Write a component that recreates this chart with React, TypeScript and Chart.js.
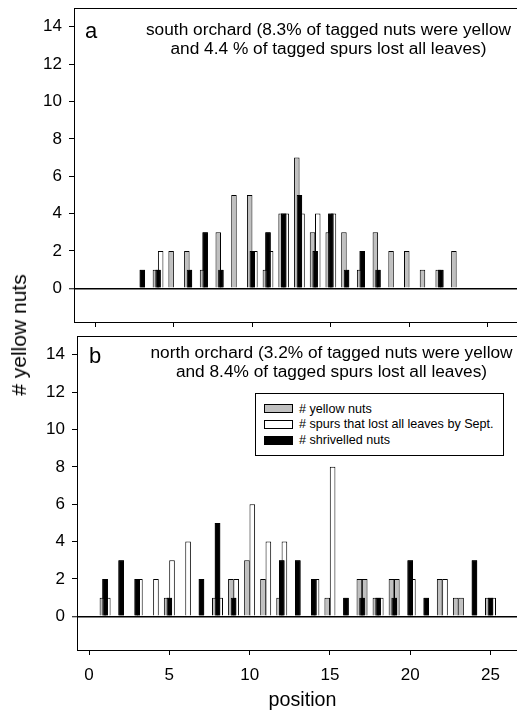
import React, { useEffect, useRef } from "react";
import { Chart, registerables } from "chart.js";

Chart.register(...registerables);

// ---------- data ----------
const positions = [1, 2, 3, 4, 5, 6, 7, 8, 9, 10, 11, 12, 13, 14, 15, 16, 17, 18, 19, 20, 21, 22, 23, 24, 25];

// panel a: south orchard
const yellowSouth = [0, 0, 0, 1, 2, 2, 1, 3, 5, 5, 1, 4, 7, 3, 3, 3, 1, 3, 2, 2, 1, 1, 2, 0, 0];
const spursSouth = [0, 0, 0, 2, 0, 0, 0, 0, 0, 2, 2, 4, 4, 4, 4, 0, 0, 0, 0, 0, 0, 0, 0, 0, 0];
const shrivelledSouth = [0, 0, 1, 1, 0, 1, 3, 1, 0, 2, 3, 4, 5, 2, 4, 1, 2, 1, 0, 0, 0, 1, 0, 0, 0];

// panel b: north orchard
const yellowNorth = [1, 0, 0, 0, 1, 0, 0, 1, 2, 3, 2, 1, 0, 0, 1, 0, 2, 1, 2, 0, 0, 2, 1, 0, 1];
const spursNorth = [1, 0, 2, 2, 3, 4, 0, 1, 2, 6, 4, 4, 0, 2, 8, 0, 2, 1, 2, 2, 0, 2, 1, 0, 1];
const shrivelledNorth = [2, 3, 2, 0, 1, 0, 2, 5, 1, 0, 0, 3, 3, 2, 0, 1, 1, 1, 1, 3, 1, 0, 0, 3, 1];
// positions where the spur bar of the north panel is printed grey in the original
const spursGreyNorth = [17, 19, 23];

const xTicks = [0, 5, 10, 15, 20, 25];
const yTicks = [0, 2, 4, 6, 8, 10, 12, 14];

const seriesLabels = ["# yellow nuts", "# spurs that lost all leaves by Sept.", "# shrivelled nuts"];

// ---------- style ----------
const FONT = "'Liberation Sans', Arial, Helvetica, sans-serif";
const GREY = "#c0c0c0";

function toPoints(values: number[]) {
  return positions
    .map((p, i) => ({ x: p, y: values[i] }))
    .filter((pt) => pt.y > 0);
}

const frameAndOrder = {
  id: "frameAndOrder",
  afterDatasetsDraw(chart: any) {
    // black series drawn on top of its neighbours
    const meta = chart.getDatasetMeta(1);
    const ctx = chart.ctx;
    ctx.save();
    meta.controller.draw();
    ctx.restore();
  },
  afterDraw(chart: any) {
    const { ctx, chartArea } = chart;
    ctx.save();
    ctx.strokeStyle = "#000";
    ctx.lineWidth = 1;
    ctx.beginPath();
    ctx.moveTo(chartArea.left, Math.round(chartArea.top) + 0.5);
    ctx.lineTo(chartArea.right, Math.round(chartArea.top) + 0.5);
    ctx.stroke();
    ctx.restore();
  },
};

type PanelLayout = {
  width: number;
  height: number;
  top: number;
  yAxisWidth: number;
  xAxisHeight: number;
  padTop: number;
  xMin: number;
  xMax: number;
  showXLabels: boolean;
};

function buildConfig(yellow: number[], spurs: number[], shriv: number[], greySpurs: number[], L: PanelLayout): any {
  return {
    type: "bar",
    data: {
      datasets: [
        { label: seriesLabels[0], data: toPoints(yellow), backgroundColor: GREY },
        { label: seriesLabels[2], data: toPoints(shriv), backgroundColor: "#000" },
        {
          label: seriesLabels[1],
          data: toPoints(spurs),
          backgroundColor: (c: any) => (c.raw && greySpurs.includes(c.raw.x) ? GREY : "#fff"),
        },
      ],
    },
    options: {
      animation: false,
      responsive: false,
      maintainAspectRatio: false,
      devicePixelRatio: 1,
      events: [],
      layout: { padding: { top: L.padTop, left: 0, right: 0, bottom: 0 } },
      datasets: {
        bar: {
          categoryPercentage: 0.5,
          barPercentage: 2.1,
          borderColor: "#000",
          borderWidth: 1,
        },
      },
      plugins: { legend: { display: false }, tooltip: { enabled: false }, title: { display: false } },
      scales: {
        x: {
          type: "linear",
          min: L.xMin,
          max: L.xMax,
          offset: false,
          grid: { offset: false, drawOnChartArea: false, drawTicks: true, tickLength: 5, color: "#000", tickColor: "#000" },
          border: { display: true, color: "#000", width: 1 },
          ticks: {
            display: L.showXLabels,
            color: "#000",
            padding: 10,
            maxRotation: 0,
            font: { family: FONT, size: 17 },
          },
          afterBuildTicks: (s: any) => {
            s.ticks = xTicks.map((v) => ({ value: v }));
          },
          afterFit: (s: any) => {
            s.height = L.xAxisHeight;
            s.paddingLeft = 0;
            s.paddingRight = 0;
          },
        },
        y: {
          type: "linear",
          min: -1.8,
          max: 15,
          grid: {
            drawOnChartArea: true,
            drawTicks: true,
            tickLength: 5,
            color: (c: any) => (c.tick && c.tick.value === 0 ? "#000" : "rgba(0,0,0,0)"),
            lineWidth: (c: any) => (c.tick && c.tick.value === 0 ? 1.5 : 1),
            tickColor: "#000",
            tickWidth: 1,
          },
          border: { display: true, color: "#000", width: 1 },
          ticks: { color: "#000", padding: 7, font: { family: FONT, size: 17 } },
          afterBuildTicks: (s: any) => {
            s.ticks = yTicks.map((v) => ({ value: v }));
          },
          afterFit: (s: any) => {
            s.width = L.yAxisWidth;
            s.paddingTop = 0;
            s.paddingBottom = 0;
          },
        },
      },
    },
    plugins: [frameAndOrder],
  };
}

function ChartPanel({ config, layout }: { config: any; layout: PanelLayout }) {
  const ref = useRef<HTMLCanvasElement>(null);
  useEffect(() => {
    const chart = new Chart(ref.current as HTMLCanvasElement, config);
    return () => chart.destroy();
  }, []);
  return (
    <canvas
      ref={ref}
      width={layout.width}
      height={layout.height}
      style={{ position: "absolute", left: 0, top: layout.top, width: layout.width, height: layout.height }}
    />
  );
}

const layoutSouth: PanelLayout = {
  width: 517, height: 328, top: 0, yAxisWidth: 74, xAxisHeight: 6, padTop: 8,
  xMin: -1.35, xMax: 26.85, showXLabels: false,
};
const layoutNorth: PanelLayout = {
  width: 517, height: 383, top: 328, yAxisWidth: 77, xAxisHeight: 61, padTop: 8,
  xMin: -0.75, xMax: 26.65, showXLabels: true,
};

function PanelTitle({ letter, lines, letterLeft, letterTop, centerX, top, lineHeight }: any) {
  return (
    <>
      <div style={{ position: "absolute", left: letterLeft, top: letterTop, fontSize: 22, lineHeight: "22px", whiteSpace: "nowrap" }}>{letter}</div>
      <div
        style={{
          position: "absolute", left: centerX - 220, width: 440, top, textAlign: "center",
          fontSize: 17.3, lineHeight: `${lineHeight}px`, whiteSpace: "nowrap",
        }}
      >
        {lines[0]}
        <br />
        {lines[1]}
      </div>
    </>
  );
}

function Legend() {
  const rows = [
    { label: seriesLabels[0], fill: GREY, y: 408.7 },
    { label: seriesLabels[1], fill: "#fff", y: 424.3 },
    { label: seriesLabels[2], fill: "#000", y: 440.3 },
  ];
  return (
    <>
      <div style={{ position: "absolute", left: 255, top: 393, width: 249, height: 63, border: "1px solid #000", boxSizing: "border-box", background: "#fff" }} />
      {rows.map((r) => (
        <React.Fragment key={r.label}>
          <div style={{ position: "absolute", left: 264, top: r.y - 4.5, width: 29, height: 9, background: r.fill, border: "1px solid #000", boxSizing: "border-box" }} />
          <div style={{ position: "absolute", left: 299, top: r.y - 8, height: 16, lineHeight: "16px", fontSize: 12.6, whiteSpace: "nowrap" }}>{r.label}</div>
        </React.Fragment>
      ))}
    </>
  );
}

export default function App() {
  const cfgSouth = buildConfig(yellowSouth, spursSouth, shrivelledSouth, [], layoutSouth);
  const cfgNorth = buildConfig(yellowNorth, spursNorth, shrivelledNorth, spursGreyNorth, layoutNorth);
  return (
    <div style={{ position: "absolute", left: 0, top: 0, width: 517, height: 711, overflow: "hidden", background: "#fff", fontFamily: FONT, color: "#000" }}>
      <ChartPanel config={cfgSouth} layout={layoutSouth} />
      <ChartPanel config={cfgNorth} layout={layoutNorth} />
      <PanelTitle
        letter="a" letterLeft={85} letterTop={19.5} centerX={328.5} top={19.8} lineHeight={19.5}
        lines={["south orchard (8.3% of tagged nuts were yellow", "and 4.4 % of tagged spurs lost all leaves)"]}
      />
      <PanelTitle
        letter="b" letterLeft={89} letterTop={344.7} centerX={331.5} top={342.5} lineHeight={19}
        lines={["north orchard (3.2% of tagged nuts were yellow", "and 8.4% of tagged spurs lost all leaves)"]}
      />
      <Legend />
      <div
        style={{
          position: "absolute", left: 302.5 - 60, width: 120, top: 688, textAlign: "center",
          fontSize: 19.7, lineHeight: "22px", whiteSpace: "nowrap",
        }}
      >
        position
      </div>
      <div
        style={{
          position: "absolute", left: 19, top: 335, transform: "translate(-50%, -50%) rotate(-90deg)",
          fontSize: 21, lineHeight: "22px", whiteSpace: "nowrap",
        }}
      >
        # yellow nuts
      </div>
    </div>
  );
}
